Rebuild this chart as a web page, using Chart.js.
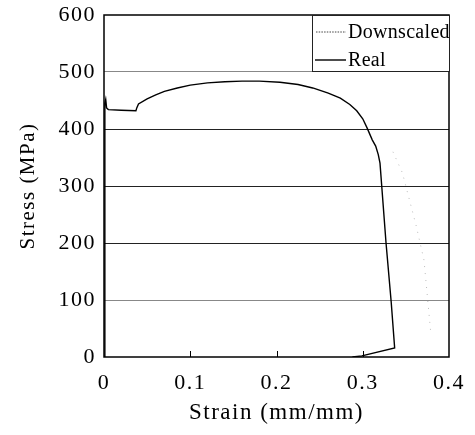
<!DOCTYPE html>
<html><head><meta charset="utf-8">
<script src="https://cdn.jsdelivr.net/npm/chart.js@4/dist/chart.umd.min.js"></script>
<style>html,body{margin:0;padding:0;background:#fff}#wrap{width:475px;height:435px}</style>
</head><body><div id="wrap"><canvas id="c" width="475" height="435"></canvas></div>
<script>
const realStrain = [0,0.001,0.002,0.003,0.005,0.02,0.037,0.038,0.04,0.05,0.06,0.07,0.085,0.1,0.12,0.14,0.16,0.18,0.204,0.225,0.242,0.26,0.274,0.285,0.293,0.3,0.305,0.311,0.315,0.318,0.32,0.327,0.333,0.337,0.299,0.288];
const realStress = [0,445,452,437,434,433,432,437,444,453,460,466,472,477,481,483,484,484,482,478,472,463,454,443,432,418,402,381,370,355,340,200,96,16,2,0];
const downStrain = [0.335,0.346,0.352,0.362,0.371,0.379];
const downStress = [360,323,288,230,170,40];
const xTicks = [0,0.1,0.2,0.3,0.4];
const yTicks = [0,100,200,300,400,500,600];
const legendLabels = ['Downscaled','Real'];

const FONT = "'Liberation Serif','DejaVu Serif',serif";
const toXY = (xs, ys) => xs.map((x,i)=>({x, y: ys[i]}));

const spacing = {
  id:'spacing',
  beforeDraw(chart){ chart.ctx.letterSpacing = '1.5px'; }
};

const frame = {
  id:'frame',
  afterDatasetsDraw(chart){
    const {ctx, chartArea:a, scales} = chart;
    ctx.save();
    ctx.letterSpacing = '0.3px';
    ctx.strokeStyle='#000'; ctx.lineWidth=1.5;
    ctx.strokeRect(a.left, a.top, a.right-a.left, a.bottom-a.top);
    ctx.lineWidth=1;
    xTicks.slice(1,-1).forEach(v=>{
      const px = Math.round(scales.x.getPixelForValue(v))+0.5;
      ctx.beginPath(); ctx.moveTo(px,a.bottom); ctx.lineTo(px,a.bottom-6); ctx.stroke();
    });
    const lw = 138, lh = 57, lx = a.right-lw+1, ly = a.top;
    ctx.fillStyle='#fff'; ctx.fillRect(lx,ly,lw,lh);
    ctx.strokeStyle='#222'; ctx.lineWidth=1;
    ctx.strokeRect(lx+0.5,ly+0.5,lw-1,lh-1);
    ctx.font = "20px "+FONT; ctx.fillStyle='#000'; ctx.textBaseline='middle';
    const rows=[ly+17, ly+45];
    ctx.setLineDash([1.5,1.2]); ctx.strokeStyle='#444';
    ctx.beginPath(); ctx.moveTo(lx+4,rows[0]); ctx.lineTo(lx+34,rows[0]); ctx.stroke();
    ctx.setLineDash([]); ctx.strokeStyle='#000'; ctx.lineWidth=1.4;
    ctx.beginPath(); ctx.moveTo(lx+3,rows[1]); ctx.lineTo(lx+34,rows[1]); ctx.stroke();
    ctx.fillText(legendLabels[0], lx+36, rows[0]+1);
    ctx.fillText(legendLabels[1], lx+36, rows[1]+1);
    ctx.restore();
  }
};

new Chart(document.getElementById('c'), {
  type:'scatter',
  data:{datasets:[
    {label:legendLabels[0], data:toXY(downStrain,downStress), showLine:true, borderColor:'#bbb', borderWidth:1, borderDash:[1,6], pointRadius:0, tension:0},
    {label:legendLabels[1], data:toXY(realStrain,realStress), showLine:true, borderColor:'#000', borderWidth:1.4, pointRadius:0, tension:0}
  ]},
  options:{
    responsive:false, animation:false,
    layout:{padding:{left:12,right:26,top:15,bottom:4}},
    plugins:{legend:{display:false}, tooltip:{enabled:false}},
    scales:{
      x:{type:'linear', min:0, max:0.4,
        afterBuildTicks(s){ s.ticks = xTicks.map(v=>({value:v})); },
        afterFit(s){ s.height = 74; s.paddingLeft = 0; s.paddingRight = 0; },
        grid:{display:false, drawTicks:false},
        border:{display:false},
        ticks:{color:'#000', font:{family:FONT,size:22}, padding:13, maxRotation:0,
          callback:(v)=> (v===0?'0':String(v))},
        title:{display:true, text:'Strain (mm/mm)', color:'#000', font:{family:FONT,size:23}, padding:{top:4}}
      },
      y:{min:0, max:600,
        afterBuildTicks(s){ s.ticks = yTicks.map(v=>({value:v})); },
        afterFit(s){ s.width = 92; s.paddingTop = 0; s.paddingBottom = 0; },
        grid:{color:(c)=> (c.tick.value===0||c.tick.value===600)?'rgba(0,0,0,0)':((c.tick.value===100||c.tick.value===500)?'#888':'#222'), lineWidth:1, drawTicks:false},
        border:{display:false},
        ticks:{color:'#000', font:{family:FONT,size:22}, padding:8},
        title:{display:true, text:'Stress (MPa)', color:'#000', font:{family:FONT,size:21}, padding:{bottom:4}}
      }
    }
  },
  plugins:[spacing, frame]
});
</script></body></html>
